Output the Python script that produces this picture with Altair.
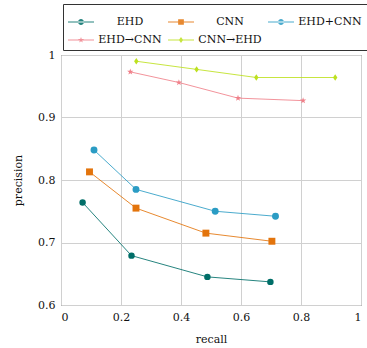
import altair as alt
import pandas as pd

series = ["EHD", "CNN", "EHD+CNN", "EHD→CNN", "CNN→EHD"]
colors = ["#006e68", "#e3740c", "#2b9cc4", "#f0808a", "#bde11f"]

ehd_recall = [0.072, 0.235, 0.488, 0.698]
ehd_precision = [0.764, 0.679, 0.645, 0.637]
cnn_recall = [0.095, 0.250, 0.483, 0.703]
cnn_precision = [0.813, 0.755, 0.715, 0.702]
both_recall = [0.110, 0.250, 0.514, 0.715]
both_precision = [0.848, 0.785, 0.750, 0.742]
e2c_recall = [0.231, 0.393, 0.590, 0.807]
e2c_precision = [0.973, 0.956, 0.931, 0.927]
c2e_recall = [0.251, 0.452, 0.651, 0.914]
c2e_precision = [0.990, 0.977, 0.964, 0.964]

x_ticks = [0, 0.2, 0.4, 0.6, 0.8, 1]
y_ticks = [0.6, 0.7, 0.8, 0.9, 1]

FONT = "DejaVu Serif"

pairs = [
    (ehd_recall, ehd_precision),
    (cnn_recall, cnn_precision),
    (both_recall, both_precision),
    (e2c_recall, e2c_precision),
    (c2e_recall, c2e_precision),
]
rows = []
for name, (rs, ps) in zip(series, pairs):
    for i, (r, p) in enumerate(zip(rs, ps)):
        rows.append({"series": name, "recall": r, "precision": p, "order": i})
df = pd.DataFrame(rows)

# marker glyphs for the plot (unit box paths)
star = ("M0,-1L0.22,-0.31L0.95,-0.31L0.36,0.12L0.59,0.81L0,0.38"
        "L-0.59,0.81L-0.36,0.12L-0.95,-0.31L-0.22,-0.31Z")
diamond = "M0,-1L0.7,0L0,1L-0.7,0Z"
shapes = ["circle", "square", "circle", star, diamond]
sizes = [42, 48, 48, 45, 40]


# legend glyphs: a short line with the marker in the middle
def circ(r):
    return f"M{-r},0A{r},{r} 0 1,0 {r},0A{r},{r} 0 1,0 {-r},0Z"


def scaled(path, k):
    out = []
    for tok in path.replace("M", " M ").replace("L", " L ").replace("Z", " Z ").split():
        if "," in tok:
            a, b = tok.split(",")
            out.append(f"{float(a) * k:.3f},{float(b) * k:.3f}")
        else:
            out.append(tok)
    return "".join(out)


line_path = "M-1,-0.035L1,-0.035L1,0.035L-1,0.035Z"
leg_markers = [
    circ(0.23),
    "M-0.22,-0.22L0.22,-0.22L0.22,0.22L-0.22,0.22Z",
    circ(0.23),
    scaled(star, 0.24),
    scaled(diamond, 0.24),
]
legend_shapes = [line_path + " " + m for m in leg_markers]

x = alt.X("recall:Q", title="recall",
          scale=alt.Scale(domain=[0, 1], nice=False),
          axis=alt.Axis(values=x_ticks, format="~g", grid=True))
y = alt.Y("precision:Q", title="precision",
          scale=alt.Scale(domain=[0.6, 1], nice=False, zero=False),
          axis=alt.Axis(values=y_ticks, format="~g", grid=True))
color_scale = alt.Scale(domain=series, range=colors)

lines = alt.Chart(df).mark_line(strokeWidth=1, opacity=0.85).encode(
    x=x, y=y,
    color=alt.Color("series:N", scale=color_scale),
    order="order:Q",
    detail="series:N",
)

# one point layer per series so each gets its own marker glyph
point_layers = []
for name, shp, sz in zip(series, shapes, sizes):
    point_layers.append(
        alt.Chart(df).transform_filter(alt.datum.series == name)
        .mark_point(filled=True, opacity=1, shape=shp, size=sz)
        .encode(x=x, y=y, color=alt.Color("series:N", scale=color_scale))
    )

legend_cfg = alt.Legend(
    title=None, orient="none", legendX=2, legendY=-51, columns=3,
    direction="horizontal",
    symbolSize=676, symbolOpacity=1, symbolStrokeWidth=0,
    labelFont=FONT, labelFontSize=11, labelColor="#111",
    labelAlign="center", labelOffset=36,
    columnPadding=6, rowPadding=-12,
    strokeColor="#333", padding=5, symbolOffset=0,
)

# invisible layer that only carries the legend
legend_layer = alt.Chart(df).mark_point(filled=True, opacity=0, size=0).encode(
    x=x, y=y,
    color=alt.Color("series:N", scale=color_scale, legend=legend_cfg),
    shape=alt.Shape("series:N", scale=alt.Scale(domain=series,
                                                range=legend_shapes),
                    legend=legend_cfg),
)

chart = alt.layer(lines, *point_layers, legend_layer).properties(
    width=300, height=250,
    autosize=alt.AutoSizeParams(type="none"),
    padding={"left": 61, "top": 55, "right": 6, "bottom": 43},
).configure_view(
    stroke="#444", strokeWidth=1
).configure_axis(
    labelFont=FONT, titleFont=FONT,
    labelFontSize=11, titleFontSize=11, labelColor="#111", titleColor="#111",
    titleFontWeight="normal", gridColor="#d0d0d0", gridWidth=1,
    domain=False, ticks=False,
).configure_axisX(
    labelPadding=6, titlePadding=11
).configure_axisY(
    labelPadding=6, titlePadding=14
)

chart.save("out.html", embed_options={"renderer": "svg", "actions": False})
